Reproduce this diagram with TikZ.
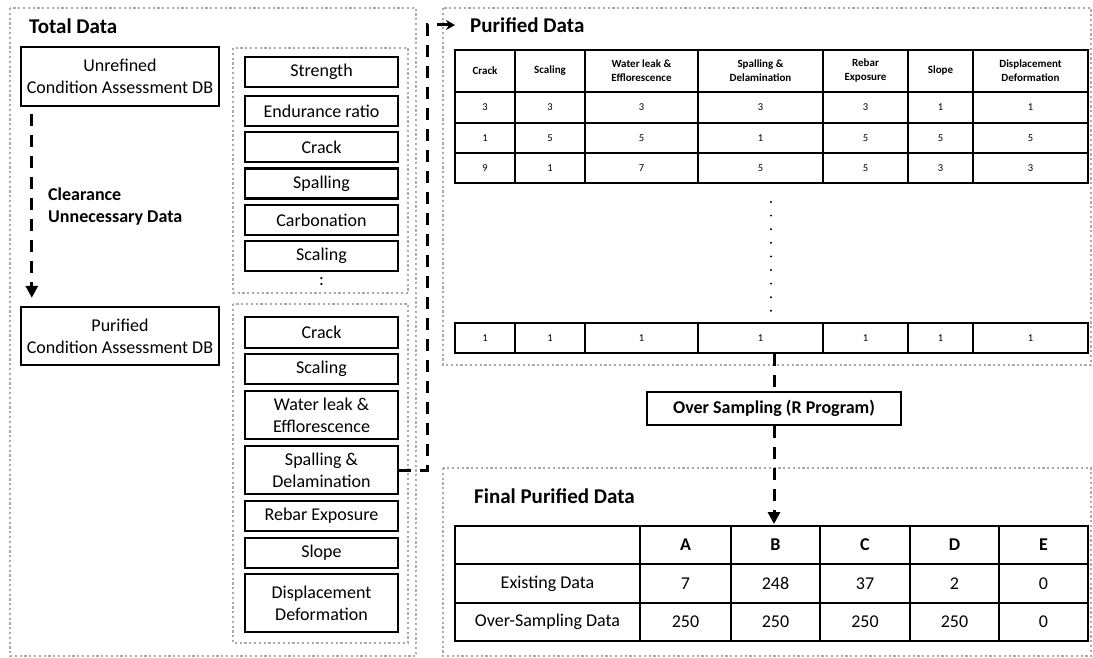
\documentclass[tikz,border=0pt]{standalone}
\usepackage{fontspec}
\setmainfont{Carlito}
\usetikzlibrary{arrows.meta}
\definecolor{dotgray}{RGB}{170,170,170}
\newcommand{\tabcell}[7]{\node[cellbox,#7,minimum width={#3-#2},minimum height={#5-#4}] (#1) at ({(#2+#3)/2},{(#4+#5)/2}) {#6};}
\begin{document}
\begin{tikzpicture}[x=1pt,y=-1pt,
  dotbox/.style={draw=dotgray,line width=2.2pt,dash pattern=on 2.2pt off 2.6pt},
  item/.style={draw,line width=2.2pt,inner sep=0pt,minimum width=153pt,align=center,font=\fontsize{18}{22}\selectfont},
  dbbox/.style={draw,line width=2.4pt,inner sep=0pt,minimum width=198pt,align=center,font=\fontsize{18}{22}\selectfont},
  title/.style={anchor=west,inner sep=0pt,font=\fontsize{21}{25}\selectfont\bfseries},
  cellbox/.style={draw,line width=2pt,inner sep=0pt,align=center},
  hdr/.style={font=\fontsize{11}{14}\selectfont\bfseries},
  num/.style={font=\fontsize{10.5}{12}\selectfont},
  big/.style={font=\fontsize{18}{22}\selectfont},
  bigb/.style={font=\fontsize{18}{22}\selectfont\bfseries},
  flow/.style={line width=3pt,dash pattern=on 12pt off 9pt},
]
\useasboundingbox (0,0) rectangle (1093,658);
% dotted group frames
\draw[dotbox] (10,8) rectangle (416,656);
\draw[dotbox] (233,48) rectangle (408,293);
\draw[dotbox] (233,304) rectangle (408,643);
\draw[dotbox] (443,8) rectangle (1091,365);
\draw[dotbox] (443,468) rectangle (1091,656);
% titles
\node[title] (ttot) at (29,26) {Total Data};
\node[title] (tpur) at (470,25) {Purified Data};
\node[title] (tfin) at (474,496) {Final Purified Data};
\node[anchor=west,align=left,inner sep=0pt,bigb] (clr) at (48,207) {Clearance\\Unnecessary Data};
% DB boxes
\node[dbbox,minimum height=59pt] (unref) at (120,76.5) {Unrefined\\Condition Assessment DB};
\node[dbbox,minimum height=58pt] (pur) at (120,336) {Purified\\Condition Assessment DB};
% upper list
\node[item,minimum height=30pt] (u1) at (321.5,72) {Strength};
\node[item,minimum height=30pt] (u2) at (321.5,111) {Endurance ratio};
\node[item,minimum height=30pt] (u3) at (321.5,147) {Crack};
\node[item,minimum height=30pt] (u4) at (321.5,183.5) {Spalling};
\node[item,minimum height=30pt] (u5) at (321.5,220) {Carbonation};
\node[item,minimum height=30pt] (u6) at (321.5,256) {Scaling};
\node[inner sep=0pt,big] (ucol) at (321.5,282) {:};
% lower list
\node[item,minimum height=31pt] (l1) at (321.5,332.5) {Crack};
\node[item,minimum height=30pt] (l2) at (321.5,369) {Scaling};
\node[item,minimum height=48pt] (l3) at (321.5,415) {Water leak \&\\Efflorescence};
\node[item,minimum height=48pt] (l4) at (321.5,470) {Spalling \&\\Delamination};
\node[item,minimum height=30pt] (l5) at (321.5,516) {Rebar Exposure};
\node[item,minimum height=30pt] (l6) at (321.5,553) {Slope};
\node[item,minimum height=58pt] (l7) at (321.5,603) {Displacement\\Deformation};
% purified data table
\def\PX{{455,515,585,698,823,908,973,1088}}
\foreach \v [count=\c from 0] in {Crack,Scaling,{Water leak \&\\Efflorescence},{Spalling \&\\Delamination},{Rebar\\Exposure},Slope,{Displacement\\Deformation}}{
  \pgfmathsetmacro\l{\PX[\c]}\pgfmathsetmacro\r{\PX[\c+1]}
  \tabcell{ph\c}{\l}{\r}{50}{92}{\v}{hdr}
}
\foreach \t/\b/\vals/\nm in {92/123/{3,3,3,3,3,1,1}/pa,123/153/{1,5,5,1,5,5,5}/pb,153/183/{9,1,7,5,5,3,3}/pc,323/353/{1,1,1,1,1,1,1}/lr}{
  \foreach \v [count=\c from 0] in \vals {
    \pgfmathsetmacro\l{\PX[\c]}\pgfmathsetmacro\r{\PX[\c+1]}
    \tabcell{\nm\c}{\l}{\r}{\t}{\b}{\v}{num}
  }
}
\foreach \i in {0,...,8} \fill (771,{202+\i*13.6}) circle (1.1pt);
% over sampling
\node[draw,line width=2.2pt,minimum width=254pt,minimum height=33pt,inner sep=0pt,bigb] (os) at (774,408.5) {Over Sampling (R Program)};
% final table
\def\FX{{455,640,731,820,910,999,1088}}
\foreach \v [count=\c from 0] in {{},A,B,C,D,E}{
  \pgfmathsetmacro\l{\FX[\c]}\pgfmathsetmacro\r{\FX[\c+1]}
  \tabcell{fh\c}{\l}{\r}{526}{564}{\v}{bigb}
}
\foreach \v [count=\c from 0] in {Existing Data,7,248,37,2,0}{
  \pgfmathsetmacro\l{\FX[\c]}\pgfmathsetmacro\r{\FX[\c+1]}
  \tabcell{fe\c}{\l}{\r}{564}{603}{\v}{big}
}
\foreach \v [count=\c from 0] in {Over-Sampling Data,250,250,250,250,0}{
  \pgfmathsetmacro\l{\FX[\c]}\pgfmathsetmacro\r{\FX[\c+1]}
  \tabcell{fo\c}{\l}{\r}{603}{641}{\v}{big}
}
% connectors
\draw[flow,-{Triangle[width=12pt,length=12pt]},shorten <=7pt,shorten >=8pt] ([xshift=12pt]unref.south west) -- ([xshift=12pt]pur.north west);
\coordinate (bend) at (427,25);
\coordinate (pdarrow) at (455,25);
\draw[flow,-{Stealth[length=9pt,width=10pt]}] (l4.east) -| (bend) -- (pdarrow);
\draw[flow] (lr3.south -| os.north) -- (os.north);
\draw[flow,-{Triangle[width=12pt,length=12pt]},shorten >=1pt] (os.south) -- (os.south |- fh2.north);
\end{tikzpicture}
\end{document}
